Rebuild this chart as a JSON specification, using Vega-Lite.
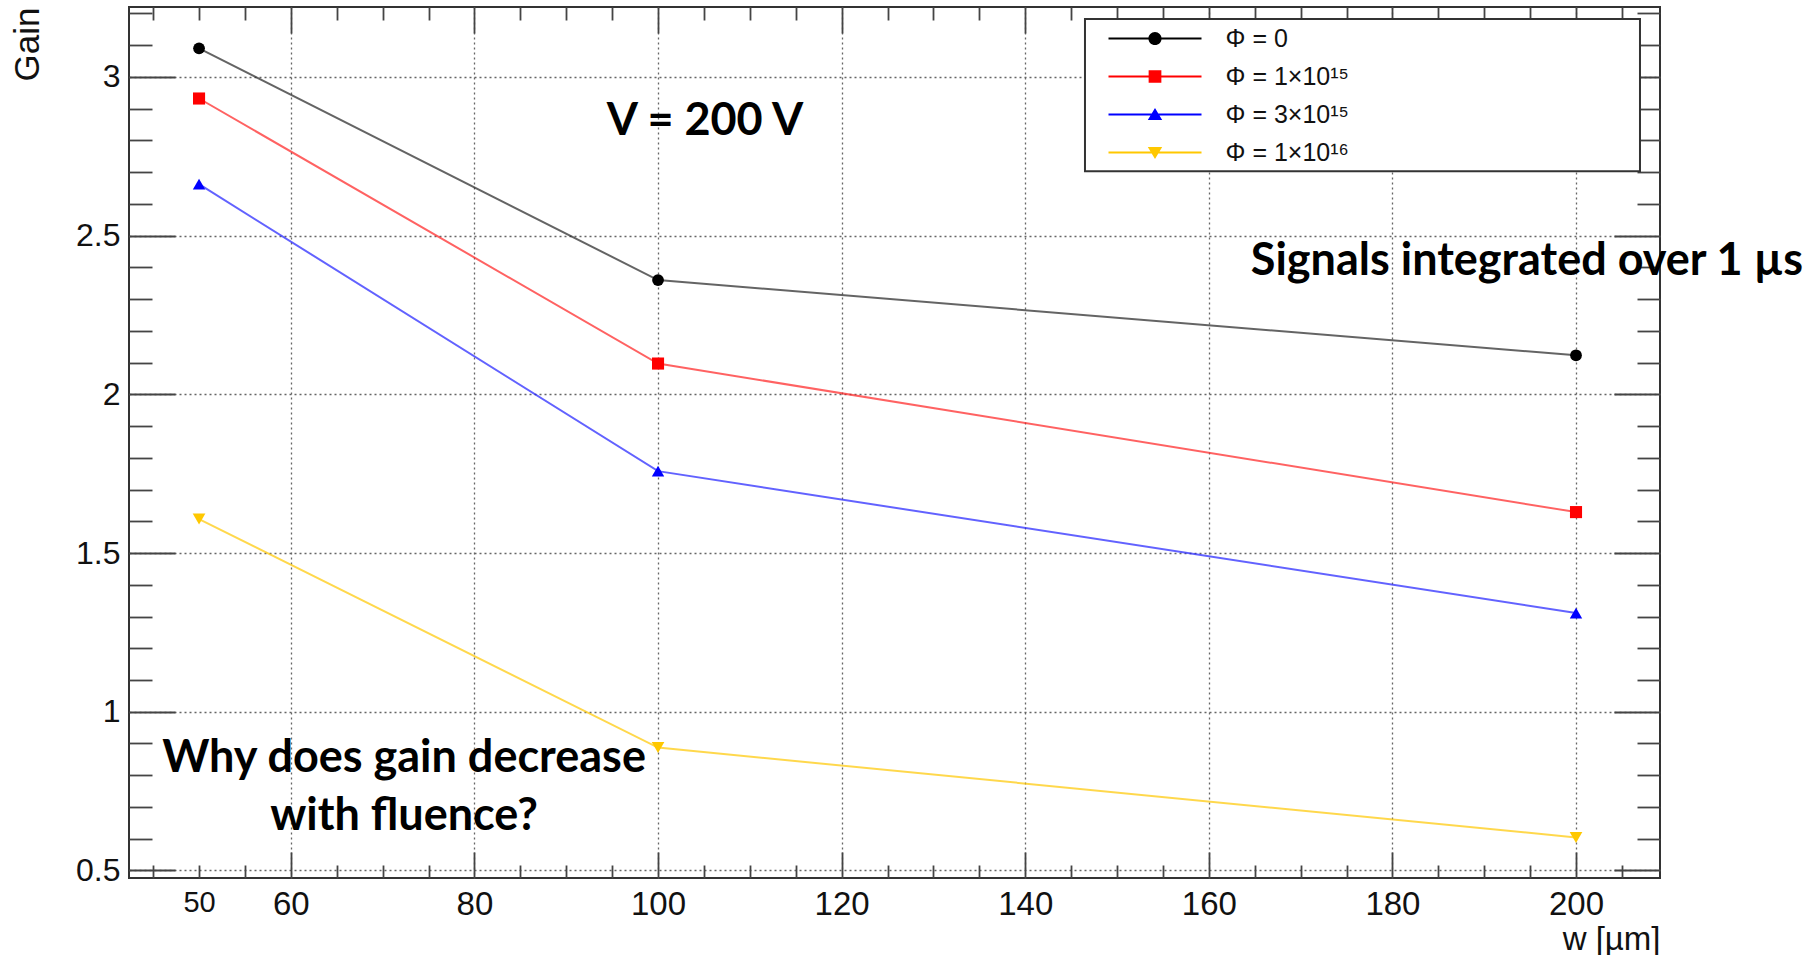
{
  "$schema": "https://vega.github.io/schema/vega-lite/v6.json",
  "width": 1531,
  "height": 871,
  "autosize": "none",
  "padding": {"left": 129, "top": 7, "right": 156, "bottom": 77},
  "background": "white",
  "config": {
    "view": {"stroke": "#333", "strokeWidth": 2},
    "axis": {
      "labelFont": "Liberation Sans",
      "titleFont": "Liberation Sans",
      "labelColor": "#111",
      "titleColor": "#111",
      "titleFontWeight": "normal",
      "tickColor": "#444",
      "tickWidth": 1.8,
      "domain": false
    },
    "legend": {
      "orient": "none",
      "legendX": 979,
      "legendY": 19,
      "padding": 0,
      "rowPadding": 12,
      "symbolOffset": 34.5,
      "labelOffset": 58,
      "labelFont": "Liberation Sans",
      "labelFontSize": 25,
      "labelColor": "#111",
      "labelLimit": 400,
      "symbolSize": 576,
      "symbolStrokeWidth": 0,
      "zindex": 1
    }
  },
  "datasets": {
    "gain": [
      {"fluence": "Φ = 0", "w": 50, "gain": 3.09},
      {"fluence": "Φ = 0", "w": 100, "gain": 2.36},
      {"fluence": "Φ = 0", "w": 200, "gain": 2.123},
      {"fluence": "Φ = 1×10¹⁵", "w": 50, "gain": 2.932},
      {"fluence": "Φ = 1×10¹⁵", "w": 100, "gain": 2.097},
      {"fluence": "Φ = 1×10¹⁵", "w": 200, "gain": 1.629},
      {"fluence": "Φ = 3×10¹⁵", "w": 50, "gain": 2.662},
      {"fluence": "Φ = 3×10¹⁵", "w": 100, "gain": 1.758},
      {"fluence": "Φ = 3×10¹⁵", "w": 200, "gain": 1.311},
      {"fluence": "Φ = 1×10¹⁶", "w": 50, "gain": 1.607},
      {"fluence": "Φ = 1×10¹⁶", "w": 100, "gain": 0.887},
      {"fluence": "Φ = 1×10¹⁶", "w": 200, "gain": 0.604}
    ]
  },
  "data": {"name": "gain"},
  "layer": [
    {
      "mark": {"type": "line", "strokeWidth": 2, "opacity": 0.7},
      "encoding": {
        "x": {
          "field": "w", "type": "quantitative",
          "scale": {"domain": [42.37, 209.15], "nice": false, "zero": false},
          "axis": {
            "orient": "bottom",
            "values": [50, 60, 80, 100, 120, 140, 160, 180, 200],
            "format": "d",
            "ticks": false,
            "grid": true,
            "gridColor": "#666",
            "gridDash": [2, 3],
            "gridWidth": 1.3,
            "gridOpacity": {"condition": {"test": "datum.value == 50", "value": 0}, "value": 1},
            "labelPadding": 10,
            "labelFontSize": {"condition": {"test": "datum.value == 50", "value": 29}, "value": 33},
            "title": "w [µm]",
            "titleFontSize": 33,
            "titleAnchor": "end",
            "titlePadding": 2
          }
        },
        "y": {
          "field": "gain", "type": "quantitative",
          "scale": {"domain": [0.4762, 3.2203], "nice": false, "zero": false},
          "axis": {
            "orient": "left",
            "values": [0.5, 1, 1.5, 2, 2.5, 3],
            "format": "~r",
            "ticks": false,
            "grid": true,
            "gridColor": "#666",
            "gridDash": [2, 3],
            "gridWidth": 1.3,
            "labelPadding": 9,
            "labelFontSize": 32,
            "title": "Gain",
            "titleFontSize": 35,
            "titleAnchor": "end",
            "titlePadding": 30
          }
        },
        "color": {
          "field": "fluence", "type": "nominal",
          "scale": {
            "domain": ["Φ = 0", "Φ = 1×10¹⁵", "Φ = 3×10¹⁵", "Φ = 1×10¹⁶"],
            "range": ["#222222", "#ff2020", "#2020ff", "#ffc800"]
          },
          "legend": null
        }
      }
    },
    {
      "mark": {"type": "point", "filled": true, "opacity": 1, "strokeWidth": 0},
      "encoding": {
        "x": {
          "field": "w", "type": "quantitative",
          "scale": {"domain": [42.37, 209.15], "nice": false, "zero": false},
          "axis": {
            "orient": "bottom",
            "values": [45, 50, 55, 60, 65, 70, 75, 80, 85, 90, 95, 100, 105, 110, 115, 120, 125, 130, 135, 140, 145, 150, 155, 160, 165, 170, 175, 180, 185, 190, 195, 200, 205],
            "labels": false,
            "grid": false,
            "title": null,
            "tickSize": {"condition": {"test": "datum.value % 20 == 0", "value": -26}, "value": -13}
          }
        },
        "y": {
          "field": "gain", "type": "quantitative",
          "scale": {"domain": [0.4762, 3.2203], "nice": false, "zero": false},
          "axis": {
            "orient": "left",
            "values": [0.5, 0.6, 0.7, 0.8, 0.9, 1.0, 1.1, 1.2, 1.3, 1.4, 1.5, 1.6, 1.7, 1.8, 1.9, 2.0, 2.1, 2.2, 2.3, 2.4, 2.5, 2.6, 2.7, 2.8, 2.9, 3.0, 3.1, 3.2],
            "labels": false,
            "grid": false,
            "title": null,
            "tickSize": {"condition": {"test": "abs(datum.value * 2 - round(datum.value * 2)) < 0.001", "value": -46}, "value": -23}
          }
        },
        "color": {
          "field": "fluence", "type": "nominal",
          "scale": {
            "domain": ["Φ = 0", "Φ = 1×10¹⁵", "Φ = 3×10¹⁵", "Φ = 1×10¹⁶"],
            "range": ["#000000", "#ff0000", "#0000ff", "#ffc800"]
          },
          "legend": null
        },
        "shape": {
          "field": "fluence", "type": "nominal",
          "scale": {
            "domain": ["Φ = 0", "Φ = 1×10¹⁵", "Φ = 3×10¹⁵", "Φ = 1×10¹⁶"],
            "range": ["circle", "square", "triangle-up", "triangle-down"]
          },
          "legend": null
        },
        "size": {
          "field": "fluence", "type": "ordinal",
          "scale": {
            "domain": ["Φ = 0", "Φ = 1×10¹⁵", "Φ = 3×10¹⁵", "Φ = 1×10¹⁶"],
            "range": [139, 161, 182, 182]
          },
          "legend": null
        }
      }
    },
    {
      "transform": [{"filter": "false"}],
      "mark": {"type": "point", "filled": true, "opacity": 1, "size": 576},
      "encoding": {
        "x": {
          "field": "w", "type": "quantitative",
          "scale": {"domain": [42.37, 209.15], "nice": false, "zero": false},
          "axis": {
            "orient": "top",
            "values": [45, 50, 55, 60, 65, 70, 75, 80, 85, 90, 95, 100, 105, 110, 115, 120, 125, 130, 135, 140, 145, 150, 155, 160, 165, 170, 175, 180, 185, 190, 195, 200, 205],
            "labels": false,
            "grid": false,
            "title": null,
            "tickSize": {"condition": {"test": "datum.value % 20 == 0", "value": -26}, "value": -13}
          }
        },
        "y": {
          "field": "gain", "type": "quantitative",
          "scale": {"domain": [0.4762, 3.2203], "nice": false, "zero": false},
          "axis": {
            "orient": "right",
            "values": [0.5, 0.6, 0.7, 0.8, 0.9, 1.0, 1.1, 1.2, 1.3, 1.4, 1.5, 1.6, 1.7, 1.8, 1.9, 2.0, 2.1, 2.2, 2.3, 2.4, 2.5, 2.6, 2.7, 2.8, 2.9, 3.0, 3.1, 3.2],
            "labels": false,
            "grid": false,
            "title": null,
            "tickSize": {"condition": {"test": "abs(datum.value * 2 - round(datum.value * 2)) < 0.001", "value": -46}, "value": -23}
          }
        },
        "color": {
          "field": "fluence", "type": "nominal",
          "scale": {
            "domain": ["Φ = 0", "Φ = 1×10¹⁵", "Φ = 3×10¹⁵", "Φ = 1×10¹⁶"],
            "range": ["#000000", "#ff0000", "#0000ff", "#ffc800"]
          },
          "legend": {"title": null}
        },
        "shape": {
          "field": "fluence", "type": "nominal",
          "scale": {
            "domain": ["Φ = 0", "Φ = 1×10¹⁵", "Φ = 3×10¹⁵", "Φ = 1×10¹⁶"],
            "range": [
              "M-3.875,-0.08H3.875V0.08H-3.875Z M0.55,0A0.55,0.55,0,1,1,-0.55,0A0.55,0.55,0,1,1,0.55,0Z",
              "M-3.875,-0.08H3.875V0.08H-3.875Z M-0.53,-0.53H0.53V0.53H-0.53Z",
              "M-3.875,-0.08H3.875V0.08H-3.875Z M0,-0.54L0.6,0.46H-0.6Z",
              "M-3.875,-0.08H3.875V0.08H-3.875Z M-0.6,-0.46H0.6L0,0.54Z"
            ]
          },
          "legend": {"title": null}
        }
      }
    },
    {
      "data": {"values": [{}]},
      "mark": {"type": "rect", "fill": "white", "stroke": "#333", "strokeWidth": 2},
      "encoding": {
        "x": {"datum": 146.51, "type": "quantitative", "scale": {"domain": [42.37, 209.15], "nice": false, "zero": false}, "axis": null},
        "x2": {"datum": 206.97},
        "y": {"datum": 3.1825, "type": "quantitative", "scale": {"domain": [0.4762, 3.2203], "nice": false, "zero": false}, "axis": null},
        "y2": {"datum": 2.7028}
      }
    },
    {
      "data": {"values": [{"note": "V = 200 V"}]},
      "mark": {"type": "text", "font": "Lato", "fontWeight": "bold", "fontSize": 45, "align": "center", "baseline": "alphabetic", "color": "#000"},
      "encoding": {
        "x": {"datum": 105.12, "type": "quantitative", "scale": {"domain": [42.37, 209.15], "nice": false, "zero": false}, "axis": null},
        "y": {"datum": 2.8178, "type": "quantitative", "scale": {"domain": [0.4762, 3.2203], "nice": false, "zero": false}, "axis": null},
        "text": {"field": "note"}
      }
    },
    {
      "data": {"values": [{"note": "Signals integrated over 1 µs"}]},
      "mark": {"type": "text", "font": "Lato", "fontWeight": "bold", "fontSize": 45, "align": "center", "baseline": "alphabetic", "color": "#000"},
      "encoding": {
        "x": {"datum": 194.66, "type": "quantitative", "scale": {"domain": [42.37, 209.15], "nice": false, "zero": false}, "axis": null},
        "y": {"datum": 2.3766, "type": "quantitative", "scale": {"domain": [0.4762, 3.2203], "nice": false, "zero": false}, "axis": null},
        "text": {"field": "note"}
      }
    },
    {
      "data": {"values": [{"note": ["Why does gain decrease", "with fluence?"]}]},
      "mark": {"type": "text", "font": "Lato", "fontWeight": "bold", "fontSize": 45, "align": "center", "baseline": "alphabetic", "lineHeight": 58, "color": "#000"},
      "encoding": {
        "x": {"datum": 72.33, "type": "quantitative", "scale": {"domain": [42.37, 209.15], "nice": false, "zero": false}, "axis": null},
        "y": {"datum": 0.8113, "type": "quantitative", "scale": {"domain": [0.4762, 3.2203], "nice": false, "zero": false}, "axis": null},
        "text": {"field": "note"}
      }
    }
  ],
  "resolve": {
    "axis": {"x": "independent", "y": "independent"},
    "scale": {"color": "independent", "shape": "independent", "size": "independent"}
  }
}
